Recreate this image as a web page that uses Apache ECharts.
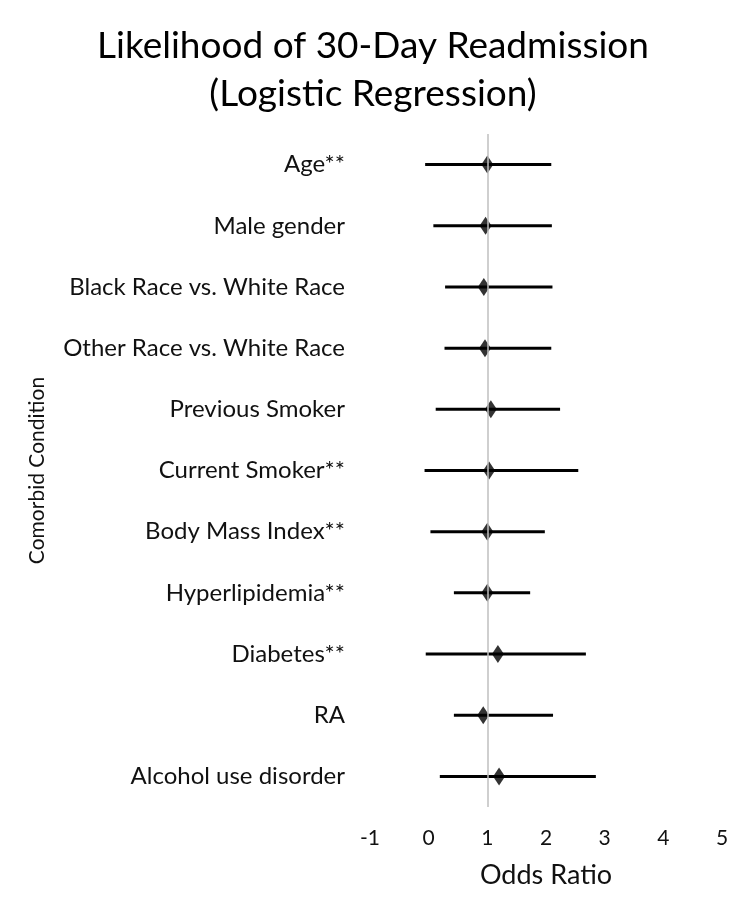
<!DOCTYPE html>
<html>
<head>
<meta charset="utf-8">
<script src="https://cdn.jsdelivr.net/npm/echarts@6/dist/echarts.min.js"></script>
<style>
  html, body { margin: 0; padding: 0; background: #fff; }
  #chart { width: 750px; height: 916px; }
</style>
</head>
<body>
<div id="chart"></div>
<script>
  // rows, top to bottom
  const categories = ['Age**', 'Male gender', 'Black Race vs. White Race', 'Other Race vs. White Race',
    'Previous Smoker', 'Current Smoker**', 'Body Mass Index**', 'Hyperlipidemia**',
    'Diabetes**', 'RA', 'Alcohol use disorder'];
  const oddsRatio = [1.0, 0.97, 0.94, 0.96, 1.06, 1.03, 1.0, 1.0, 1.18, 0.93, 1.2];
  const lowerCI = [-0.06, 0.08, 0.28, 0.27, 0.12, -0.07, 0.03, 0.43, -0.05, 0.43, 0.19];
  const upperCI = [2.09, 2.10, 2.11, 2.09, 2.24, 2.55, 1.98, 1.73, 2.68, 2.12, 2.85];
  const xTicks = [-1, 0, 1, 2, 3, 4, 5];

  const font = 'Lato, "Open Sans", sans-serif';
  const chart = echarts.init(document.getElementById('chart'));

  chart.setOption({
    animation: false,
    title: {
      text: 'Likelihood of 30-Day Readmission\n(Logistic Regression)',
      left: 368, top: 17, textAlign: 'center',
      textStyle: { fontFamily: font, fontSize: 37, fontWeight: 'normal', color: '#000', lineHeight: 48 }
    },
    grid: { left: 370, right: 28, top: 134, bottom: 109 },
    xAxis: {
      type: 'value',
      min: xTicks[0], max: xTicks[xTicks.length - 1], interval: 1,
      name: 'Odds Ratio', nameLocation: 'middle', nameGap: 55,
      nameTextStyle: { fontFamily: font, fontSize: 27, color: '#111' },
      axisLine: { show: false }, axisTick: { show: false }, splitLine: { show: false },
      axisLabel: { fontFamily: font, fontSize: 21, color: '#111', margin: 21 }
    },
    yAxis: {
      type: 'category', data: categories, inverse: true,
      name: 'Comorbid Condition', nameLocation: 'middle', nameGap: 322, nameRotate: 90,
      nameTextStyle: { fontFamily: font, fontSize: 21, color: '#111' },
      axisLine: { show: false }, axisTick: { show: false },
      axisLabel: { fontFamily: font, fontSize: 24, color: '#111', margin: 25 }
    },
    series: [
      {
        type: 'custom',
        data: categories.map((c, i) => [lowerCI[i], upperCI[i], i]),
        renderItem: function (params, api) {
          const a = api.coord([api.value(0), api.value(2)]);
          const b = api.coord([api.value(1), api.value(2)]);
          return {
            type: 'line',
            shape: { x1: a[0], y1: a[1], x2: b[0], y2: b[1] },
            style: { stroke: '#000', lineWidth: 3 }
          };
        },
        z: 3,
        markLine: {
          silent: true, symbol: 'none', label: { show: false },
          lineStyle: { color: '#bfbfbf', type: 'solid', width: 1.5 },
          data: [{ xAxis: 1 }]
        }
      },
      {
        type: 'scatter',
        data: categories.map((c, i) => [oddsRatio[i], i]),
        symbol: 'diamond', symbolSize: [12, 18],
        itemStyle: { color: '#000' },
        z: 4
      }
    ]
  });
</script>
</body>
</html>
